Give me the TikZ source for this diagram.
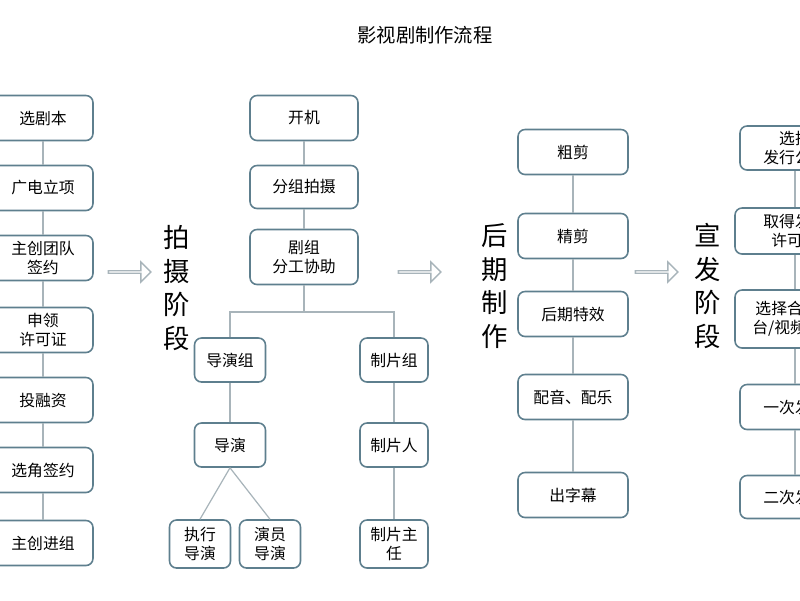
\documentclass[tikz,border=0pt]{standalone}
\usepackage{fontspec}
\setmainfont{Noto Sans CJK SC}
\usetikzlibrary{shapes.arrows}
\definecolor{bd}{HTML}{5E7F8E}
\definecolor{ln}{HTML}{A8B4BA}
\begin{document}
\begin{tikzpicture}[x=0.02cm,y=-0.02cm,
  box/.style={draw=bd,line width=0.9pt,rounded corners=4pt,fill=white,align=center,
    font=\fontsize{9}{11}\selectfont,inner sep=0pt},
  ln/.style={draw=ln,line width=0.7pt},
  harr/.style={single arrow,draw=ln,line width=0.8pt,fill=white,minimum width=0.4cm,
    single arrow head extend=0.1cm,minimum height=0.85cm,inner sep=0pt},
  stage/.style={align=center,font=\fontsize{15}{19}\selectfont}]
\useasboundingbox (0,0) rectangle (800,600);
\clip (0,0) rectangle (800,600);
\node[font=\fontsize{11}{13}\selectfont] (title) at (425,35) {影视剧制作流程};
% column 1
\foreach \n/\y/\t in {a1/118/选剧本,a2/188/广电立项,a3/258/主创团队\\签约,a4/330/申领\\许可证,a5/400/投融资,a6/470/选角签约,a7/543/主创进组}
  \node[box,minimum width=2cm,minimum height=0.9cm] (\n) at (43,\y) {\t};
\foreach \a/\b in {a1/a2,a2/a3,a3/a4,a4/a5,a5/a6,a6/a7} \draw[ln] (\a) -- (\b);
\node[harr] (ar1) at (129,272) {};
\node[stage] (s1) at (177,288) {拍\\摄\\阶\\段};
% column 2
\node[box,minimum width=2.16cm,minimum height=0.9cm] (b1) at (304,118) {开机};
\node[box,minimum width=2.16cm,minimum height=0.86cm] (b2) at (304,187) {分组拍摄};
\node[box,minimum width=2.16cm,minimum height=1.1cm] (b3) at (304,257) {剧组\\分工协助};
\draw[ln] (b1) -- (b2); \draw[ln] (b2) -- (b3);
\node[box,minimum width=1.42cm,minimum height=0.88cm] (c1) at (230,360) {导演组};
\node[box,minimum width=1.42cm,minimum height=0.88cm] (c2) at (230,445) {导演};
\node[box,minimum width=1.22cm,minimum height=0.96cm] (c3) at (200,544) {执行\\导演};
\node[box,minimum width=1.22cm,minimum height=0.96cm] (c4) at (270,544) {演员\\导演};
\node[box,minimum width=1.36cm,minimum height=0.88cm] (d1) at (394,360) {制片组};
\node[box,minimum width=1.36cm,minimum height=0.88cm] (d2) at (394,445) {制片人};
\node[box,minimum width=1.36cm,minimum height=0.96cm] (d3) at (394,544) {制片主\\任};
\coordinate (j) at (304,312);
\draw[ln] (b3) -- (j);
\draw[ln] (c1.north) |- (j) -| (d1.north);
\draw[ln] (c1) -- (c2); \draw[ln] (d1) -- (d2); \draw[ln] (d2) -- (d3);
\draw[ln] (c2.south) -- (c3.north); \draw[ln] (c2.south) -- (c4.north);
\node[harr] (ar2) at (419,272) {};
\node[stage] (s2) at (495,286) {后\\期\\制\\作};
% column 3
\foreach \n/\y/\t in {e1/152/粗剪,e2/236/精剪,e3/314/后期特效,e4/397/配音、配乐,e5/495/出字幕}
  \node[box,minimum width=2.2cm,minimum height=0.9cm] (\n) at (573,\y) {\t};
\foreach \a/\b in {e1/e2,e2/e3,e3/e4,e4/e5} \draw[ln] (\a) -- (\b);
\node[harr] (ar3) at (656,272) {};
\node[stage] (s3) at (708,286) {宣\\发\\阶\\段};
% column 4
\node[box,minimum width=2.2cm,minimum height=0.88cm] (f1) at (795,148) {选择\\发行公司};
\node[box,minimum width=2.4cm,minimum height=0.92cm] (f2) at (795,231) {取得发行\\许可证};
\node[box,minimum width=2.4cm,minimum height=1.16cm] (f3) at (795,319) {选择合适平\\台/视频网站};
\node[box,minimum width=2.2cm,minimum height=0.9cm] (f4) at (795,407) {一次发行};
\node[box,minimum width=2.2cm,minimum height=0.86cm] (f5) at (795,497) {二次发行};
\draw[ln] (f1) -- (f2); \draw[ln] (f2) -- (f3); \draw[ln] (f3) -- (f4); \draw[ln] (f4) -- (f5);
\end{tikzpicture}
\end{document}
